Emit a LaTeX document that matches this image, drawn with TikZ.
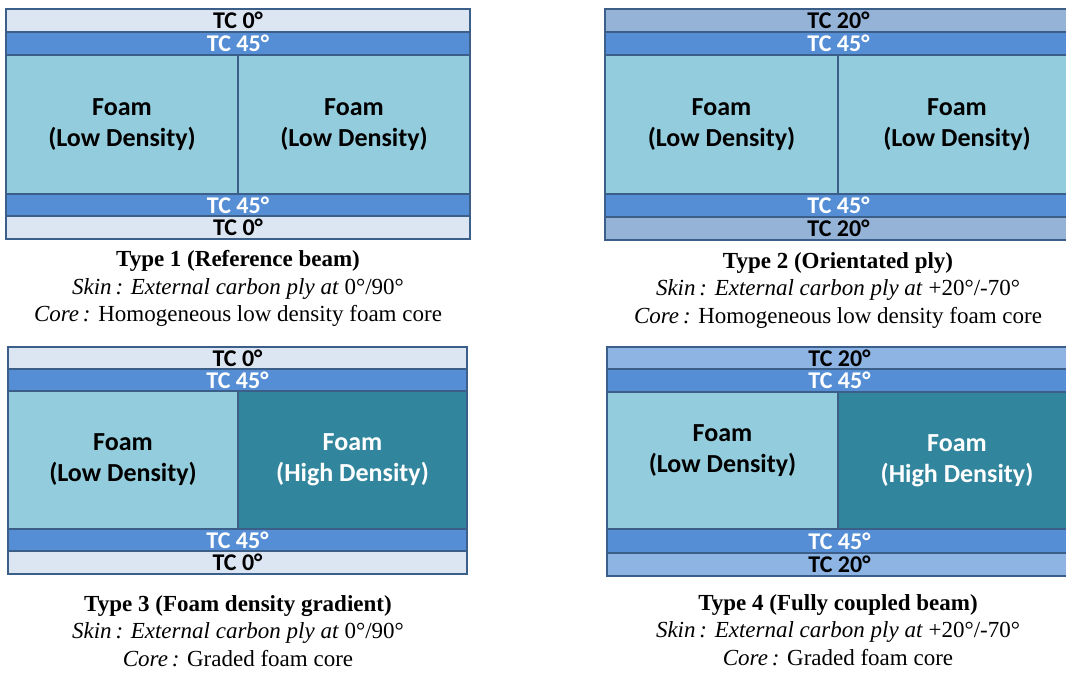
\documentclass[tikz,border=0pt]{standalone}
\usepackage{fontspec}
\setmainfont{Liberation Serif}
\newfontfamily\calibrif{Carlito}
\definecolor{bordc}{HTML}{3C5F8A}
\definecolor{tczero}{HTML}{DCE6F2}
\definecolor{tcff}{HTML}{558ED5}
\definecolor{tctwA}{HTML}{95B3D7}
\definecolor{tctwB}{HTML}{8EB4E3}
\definecolor{foamlo}{HTML}{93CDDD}
\definecolor{foamhi}{HTML}{31859C}
\tikzset{
  lay/.style={draw=bordc, line width=1.6pt, inner sep=0pt, outer sep=0pt,
    font=\calibrif\bfseries\fontsize{24}{31}\selectfont, align=center},
  foamcell/.style={font=\calibrif\bfseries\fontsize{26}{31}\selectfont},
  captxt/.style={font=\fontsize{23}{27.7}\selectfont, align=center, inner sep=0pt, anchor=north}
}
\newcommand\lay[9][]{\node[lay, #1, fill=#7, text=#8, minimum width={(#5-#3)*1pt}, minimum height={(#6-#4)*1pt}] (#2) at ({(#3+#5)/2},{(#4+#6)/2}) {#9};}
\begin{document}
\begin{tikzpicture}[x=1pt,y=-1pt]
\useasboundingbox (0,0) rectangle (1066,673);
\fill[white] (0,0) rectangle (1066,673);
\clip (0,0) rectangle (1066,673);
% Panel 1
\lay{aa}{6}{9}{470}{32}{tczero}{black}{TC 0°}
\lay{ab}{6}{32}{470}{55}{tcff}{white}{TC 45°}
\lay[foamcell]{ac}{6}{55}{238}{194}{foamlo}{black}{Foam\\(Low Density)}
\lay[foamcell]{ad}{238}{55}{470}{194}{foamlo}{black}{Foam\\(Low Density)}
\lay{ae}{6}{194}{470}{216}{tcff}{white}{TC 45°}
\lay{af}{6}{216}{470}{239}{tczero}{black}{TC 0°}
\node[captxt] (ca) at (238,250) {\textbf{Type 1 (Reference beam)}\\\textit{Skin\,: External carbon ply at} 0°/90°\\\textit{Core\,:} Homogeneous low density foam core};
% Panel 2
\lay{ba}{605}{9}{1072}{32}{tctwA}{black}{TC 20°}
\lay{bb}{605}{32}{1072}{55}{tcff}{white}{TC 45°}
\lay[foamcell]{bc}{605}{55}{838}{194}{foamlo}{black}{Foam\\(Low Density)}
\lay[foamcell]{bd}{838}{55}{1076}{194}{foamlo}{black}{Foam\\(Low Density)}
\lay{be}{605}{194}{1072}{217}{tcff}{white}{TC 45°}
\lay{bf}{605}{217}{1072}{240}{tctwA}{black}{TC 20°}
\node[captxt] (cb) at (838,252) {\textbf{Type 2 (Orientated ply)}\\\textit{Skin\,: External carbon ply at} +20°/-70°\\\textit{Core\,:} Homogeneous low density foam core};
% Panel 3
\lay{ca}{8}{347}{467}{369}{tczero}{black}{TC 0°}
\lay{cb}{8}{369}{467}{391}{tcff}{white}{TC 45°}
\lay[foamcell]{cc}{8}{391}{238}{529}{foamlo}{black}{Foam\\(Low Density)}
\lay[foamcell]{cd}{238}{391}{467}{529}{foamhi}{white}{Foam\\(High Density)}
\lay{ce}{8}{529}{467}{551}{tcff}{white}{TC 45°}
\lay{cf}{8}{551}{467}{574}{tczero}{black}{TC 0°}
\node[captxt] (cc) at (238,595) {\textbf{Type 3 (Foam density gradient)}\\\textit{Skin\,: External carbon ply at} 0°/90°\\\textit{Core\,:} Graded foam core};
% Panel 4
\lay{da}{607}{347}{1072}{369}{tctwB}{black}{TC 20°}
\lay{db}{607}{369}{1072}{392}{tcff}{white}{TC 45°}
\lay{dc}{607}{392}{838}{529}{foamlo}{black}{}
\node[lay, foamcell, draw=none, fill=none, text=black] (dct) at ([yshift=10pt]dc.center) {Foam\\(Low Density)};
\lay[foamcell]{dd}{838}{392}{1076}{529}{foamhi}{white}{Foam\\(High Density)}
\lay{de}{607}{529}{1072}{553}{tcff}{white}{TC 45°}
\lay{df}{607}{553}{1072}{576}{tctwB}{black}{TC 20°}
\node[captxt] (cd) at (838,594) {\textbf{Type 4 (Fully coupled beam)}\\\textit{Skin\,: External carbon ply at} +20°/-70°\\\textit{Core\,:} Graded foam core};
\end{tikzpicture}
\end{document}
